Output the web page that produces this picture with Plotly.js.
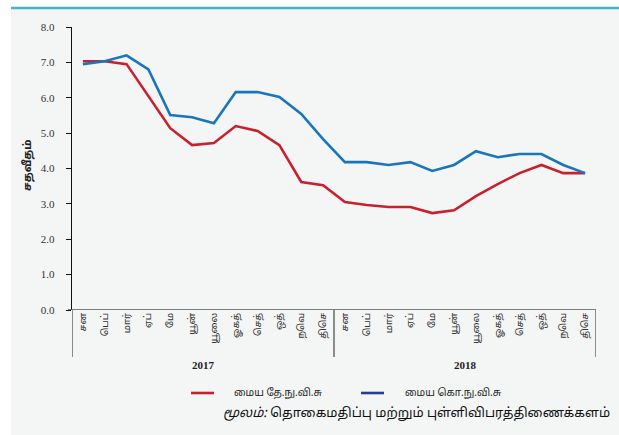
<!DOCTYPE html>
<html><head><meta charset="utf-8">
<script src="https://cdn.plot.ly/plotly-3.0.1.min.js"></script>
<style>html,body{margin:0;padding:0;background:#fff}#chart{width:619px;height:435px}</style>
</head><body><div id="chart"></div>
<script>
const months = ["சன","பெப்","மார்","ஏப்","மே","யூன்","யூலை","ஓகத்","செத்","ஒத்","நவெ","திசெ"];
const years = ["2017","2018"];
const coreNCPI = [7.03,7.03,6.95,6.05,5.14,4.66,4.72,5.20,5.06,4.66,3.62,3.53,
                  3.05,2.97,2.91,2.91,2.74,2.82,3.22,3.56,3.87,4.10,3.87,3.87];
const coreCCPI = [6.95,7.03,7.20,6.80,5.51,5.45,5.28,6.16,6.16,6.02,5.54,4.83,
                  4.18,4.18,4.10,4.18,3.93,4.10,4.49,4.32,4.41,4.41,4.10,3.87];
const seriesNames = ["மைய தே.நு.வி.சு","மைய கொ.நு.வி.சு"];
const yTicks = [0,1,2,3,4,5,6,7,8];
const sourceLabel = "மூலம்:";
const sourceText = "தொகைமதிப்பு மற்றும் புள்ளிவிபரத்திணைக்களம்";
const yTitle = "சதவீதம்";

const idx = [];
const tickText = [];
years.forEach((y,yi)=>months.forEach((m,mi)=>{idx.push(yi*months.length+mi);tickText.push(m);}));

const red = "#c9202f", blue = "#1b75bc", legendBlue = "#233f94";
const tamil = "'Noto Sans Tamil','Latha','Lohit Tamil','Noto Sans',sans-serif";
const serif = "'Liberation Serif','DejaVu Serif',serif";

const traces = [
  {x: idx, y: coreNCPI, type:"scatter", mode:"lines", line:{color:red,width:2.6}, name:seriesNames[0], hoverinfo:"none"},
  {x: idx, y: coreCCPI, type:"scatter", mode:"lines", line:{color:blue,width:2.6}, name:seriesNames[1], hoverinfo:"none"}
];

const L=72,R=23,T=27,B=125,W=619-L-R,H=435-T-B;
const px=x=>(x-L)/W, py=y=>1-(y-T)/H;

const shapes = [
  {type:"rect",xref:"paper",yref:"paper",x0:px(-5),x1:px(11),y0:py(440),y1:py(-5),fillcolor:"#ffffff",line:{width:0},layer:"below"},
  {type:"rect",xref:"paper",yref:"paper",x0:px(-5),x1:px(625),y0:py(8),y1:py(-5),fillcolor:"#ffffff",line:{width:0},layer:"below"},
  {type:"line",xref:"paper",yref:"paper",x0:px(11),x1:px(625),y0:py(8),y1:py(8),line:{color:"#45b5c2",width:2.5}},
  {type:"line",xref:"paper",yref:"y",x0:px(68),x1:px(596),y0:0,y1:0,line:{color:"#555555",width:1.6}},
  {type:"line",xref:"paper",yref:"paper",x0:px(191),x1:px(214),y0:py(393),y1:py(393),line:{color:red,width:2.6}},
  {type:"line",xref:"paper",yref:"paper",x0:px(361),x1:px(384),y0:py(393),y1:py(393),line:{color:legendBlue,width:2.6}}
];
[-0.5, months.length-0.5, years.length*months.length-0.5].forEach(v=>{
  shapes.push({type:"line",xref:"x",yref:"paper",x0:v,x1:v,y0:0,y1:py(357),line:{color:"#222",width:1}});
});

const annotations = [
  {xref:"paper",yref:"paper",x:px(28),y:py(165),xanchor:"center",yanchor:"middle",text:"<b>"+yTitle+"</b>",textangle:-90,showarrow:false,font:{family:tamil,size:11,color:"#222"}},
  {xref:"paper",yref:"paper",x:px(232),y:py(393),xanchor:"left",yanchor:"middle",text:seriesNames[0],showarrow:false,font:{family:tamil,size:10,color:"#222"}},
  {xref:"paper",yref:"paper",x:px(403),y:py(393),xanchor:"left",yanchor:"middle",text:seriesNames[1],showarrow:false,font:{family:tamil,size:10,color:"#222"}},
  {xref:"paper",yref:"paper",x:px(612),y:py(414),xanchor:"right",yanchor:"middle",text:"<i>"+sourceLabel+"</i> "+sourceText,showarrow:false,font:{family:tamil,size:13,color:"#111"}}
];
years.forEach((y,yi)=>annotations.push({xref:"x",yref:"paper",x:yi*months.length+(months.length-1)/2,y:py(365),xanchor:"center",yanchor:"middle",text:"<b>"+y+"</b>",showarrow:false,font:{family:serif,size:11,color:"#222"}}));

const layout = {
  width:619,height:435,
  margin:{l:L,r:R,t:T,b:B,pad:0},
  paper_bgcolor:"#f3f6f5",plot_bgcolor:"rgba(0,0,0,0)",
  showlegend:false,
  xaxis:{range:[-0.5,23.5],tickmode:"array",tickvals:idx,ticktext:tickText,tickangle:-90,
         showgrid:false,zeroline:false,showline:false,ticks:"",
         tickfont:{family:tamil,size:9.5,color:"#333"},fixedrange:true},
  yaxis:{range:[0,8],tickmode:"array",tickvals:yTicks,ticktext:yTicks.map(v=>v.toFixed(1)),
         showgrid:false,zeroline:false,showline:true,linecolor:"#111",linewidth:1.2,
         ticks:"outside",ticklen:5,tickcolor:"#111",tickwidth:1,ticklabelstandoff:9,
         tickfont:{family:serif,size:11,color:"#333"},fixedrange:true},
  shapes:shapes,annotations:annotations
};
Plotly.newPlot("chart",traces,layout,{displayModeBar:false,staticPlot:true});
</script></body></html>
